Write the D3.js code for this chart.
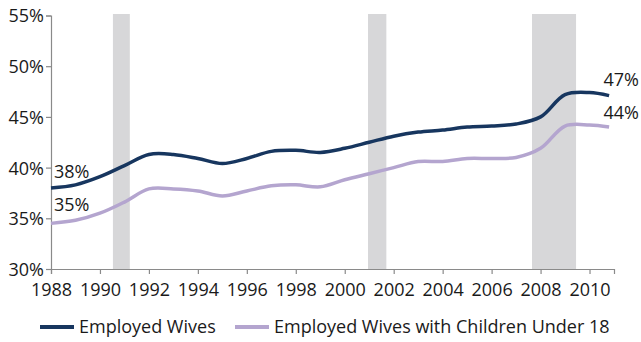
<!DOCTYPE html>
<html>
<head>
<meta charset="utf-8">
<script src="https://cdn.jsdelivr.net/npm/d3@7"></script>
<style>
  body { margin: 0; background: white; }
  svg { font-family: "Open Sans", sans-serif; }
</style>
</head>
<body>
<svg width="641" height="342"></svg>
<script>
const years = [1988, 1989, 1990, 1991, 1992, 1993, 1994, 1995, 1996, 1997, 1998, 1999,
               2000, 2001, 2002, 2003, 2004, 2005, 2006, 2007, 2008, 2009, 2010, 2010.8];
const wives = [38.0, 38.3, 39.1, 40.2, 41.3, 41.3, 40.9, 40.4, 40.9, 41.6, 41.7, 41.5,
               41.9, 42.5, 43.1, 43.5, 43.7, 44.0, 44.1, 44.3, 45.0, 47.2, 47.4, 47.1];
const wivesKids = [34.5, 34.8, 35.5, 36.6, 37.9, 37.9, 37.7, 37.2, 37.7, 38.2, 38.3, 38.1,
                   38.8, 39.4, 40.0, 40.6, 40.6, 40.9, 40.9, 41.0, 41.9, 44.1, 44.2, 44.0];
const recessions = [[1990.53, 1991.22], [2000.95, 2001.7], [2007.65, 2009.45]];
const yTicks = [30, 35, 40, 45, 50, 55];
const xTicks = d3.range(1988, 2011, 2);

const svg = d3.select('svg');
const x = d3.scaleLinear().domain([1988, 2011]).range([51, 614]);
const y = d3.scaleLinear().domain([30, 55]).range([269, 15.5]);

// recession bands
svg.selectAll('.band').data(recessions).enter()
  .append('rect')
    .attr('x', d => x(d[0]))
    .attr('width', d => x(d[1]) - x(d[0]))
    .attr('y', 14)
    .attr('height', y(30) - 14)
    .attr('fill', '#d7d7d9');

// axes
const yAxis = svg.append('g')
  .attr('transform', `translate(${x(1988)},0)`)
  .call(d3.axisLeft(y).tickValues(yTicks).tickFormat(d => d + '%').tickSizeOuter(0).tickSize(5));
const xAxis = svg.append('g')
  .attr('transform', `translate(0,${y(30)})`)
  .call(d3.axisBottom(x).tickValues(xTicks).tickFormat(d3.format('d')).tickSizeOuter(0).tickSize(5));

[yAxis, xAxis].forEach(a => {
  a.selectAll('.domain').attr('stroke', '#8a8a8a').attr('stroke-width', 1.2);
  a.selectAll('.tick line').attr('stroke', '#8a8a8a').attr('stroke-width', 1.2);
  a.selectAll('text').attr('fill', '#1a1a1a').style('font-size', '18px')
    .style('font-family', '"Open Sans", sans-serif');
});
yAxis.selectAll('text').attr('x', -7).attr('dy', '0.36em');
xAxis.selectAll('text').attr('y', 13).attr('dy', '0.8em');

// lines
const line = vals => d3.line()
  .x((d, i) => x(years[i]))
  .y(d => y(d))
  .curve(d3.curveCatmullRom.alpha(0.5))(vals);

svg.append('path').attr('d', line(wivesKids))
  .attr('fill', 'none').attr('stroke', '#b4a5cf').attr('stroke-width', 3.5);
svg.append('path').attr('d', line(wives))
  .attr('fill', 'none').attr('stroke', '#17365f').attr('stroke-width', 3.5);

// end labels
const lbl = (tx, ty, t, anchor) => svg.append('text')
  .attr('x', tx).attr('y', ty).attr('text-anchor', anchor || 'start')
  .style('font-size', '18px').attr('fill', '#1a1a1a').text(t);
lbl(x(1988) + 3, y(wives[0]) - 10, Math.round(wives[0]) + '%');
lbl(x(1988) + 3, y(wivesKids[0]) - 12, Math.round(wivesKids[0]) + '%');
lbl(639, y(wives[wives.length - 1]) - 10, Math.round(wives[wives.length - 1]) + '%', 'end');
lbl(639, y(wivesKids[wivesKids.length - 1]) - 8, Math.round(wivesKids[wivesKids.length - 1]) + '%', 'end');

// legend
const legend = [
  { name: 'Employed Wives', color: '#17365f', x0: 40 },
  { name: 'Employed Wives with Children Under 18', color: '#b4a5cf', x0: 235 }
];
const lg = svg.selectAll('.lg').data(legend).enter().append('g');
lg.append('line')
  .attr('x1', d => d.x0).attr('x2', d => d.x0 + 34)
  .attr('y1', 327).attr('y2', 327)
  .attr('stroke', d => d.color).attr('stroke-width', 4);
lg.append('text')
  .attr('x', d => d.x0 + 39).attr('y', 333)
  .style('font-size', '18px').attr('fill', '#1a1a1a')
  .text(d => d.name);
</script>
</body>
</html>
